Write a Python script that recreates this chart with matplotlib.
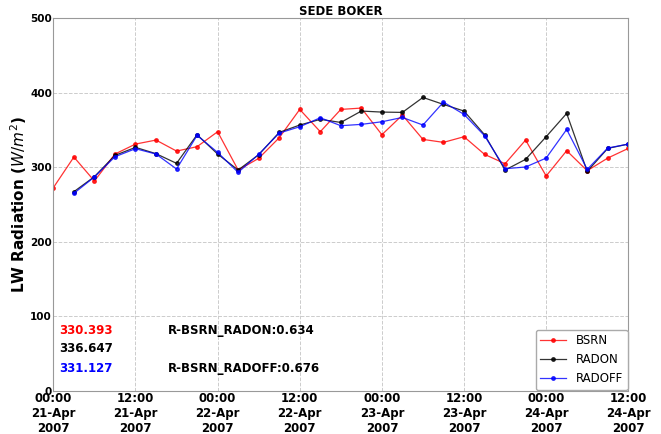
import datetime
import matplotlib
matplotlib.use("Agg")
import matplotlib.pyplot as plt
import matplotlib.dates as mdates

# 3-hourly samples from 00:00 21-Apr-2007 to 12:00 24-Apr-2007
start = datetime.datetime(2007, 4, 21, 0, 0)
times = [start + datetime.timedelta(hours=3 * k) for k in range(29)]

bsrn = [272.6, 313.8, 281.6, 317.8, 331.2, 336.6, 321.8, 327.7, 347.8, 296.3,
        312.0, 339.7, 377.8, 347.8, 377.8, 379.6, 343.8, 370.2, 337.5, 333.5,
        341.1, 317.4, 304.8, 336.6, 288.3, 322.3, 295.4, 312.4, 325.4]
radon = [None, 267.2, 287.4, 316.0, 326.8, 318.3, 305.3, 343.8, 317.8, 296.3,
         316.9, 346.9, 356.8, 364.4, 360.3, 375.6, 374.2, 373.8, 393.9, 384.5,
         375.6, 343.8, 296.3, 310.7, 341.1, 372.4, 294.5, 325.4, 331.2]
radoff = [None, 265.0, 287.0, 314.2, 325.0, 317.8, 297.7, 342.9, 320.0, 293.2,
          317.4, 346.0, 354.5, 366.6, 355.9, 357.7, 361.2, 367.0, 356.8, 387.6,
          371.1, 342.4, 298.1, 300.4, 312.4, 350.9, 297.2, 325.9, 331.2]

means = ["330.393", "336.647", "331.127"]
corr_labels = ["R-BSRN_RADON:0.634", "R-BSRN_RADOFF:0.676"]


def clean(vals):
    return [float("nan") if v is None else v for v in vals]


fig = plt.figure(figsize=(6.61, 4.34), dpi=100)
ax = fig.add_axes([0.0807, 0.1002, 0.8698, 0.8572])

ax.plot(times, clean(bsrn), color="red", marker="o", markersize=2.5,
        linewidth=0.9, alpha=0.8, label="BSRN")
ax.plot(times, clean(radon), color="black", marker="o", markersize=2.5,
        linewidth=0.9, alpha=0.8, label="RADON")
ax.plot(times, clean(radoff), color="blue", marker="o", markersize=2.5,
        linewidth=0.9, alpha=0.8, label="RADOFF")

ax.set_xlim(times[0], times[-1])
ax.set_ylim(0, 500)
ax.set_yticks([0, 100, 200, 300, 400, 500])
ax.xaxis.set_major_locator(mdates.HourLocator(byhour=[0, 12]))
ax.xaxis.set_major_formatter(mdates.DateFormatter("%H:%M\n%d-%b\n%Y"))

ax.grid(True, linestyle="--", color="#cccccc", linewidth=0.7)
ax.tick_params(length=0, pad=1)
for lab in ax.get_xticklabels():
    lab.set_fontweight("bold")
    lab.set_fontsize(8.5)
for lab in ax.get_yticklabels():
    lab.set_fontweight("bold")
    lab.set_fontsize(7.5)
for sp in ax.spines.values():
    sp.set_color("#999999")

ax.set_title("SEDE BOKER", fontsize=8.5, fontweight="bold", pad=2)
ax.set_ylabel(r"LW Radiation ($W/m^2$)", fontsize=11, fontweight="bold",
              labelpad=1)

colors = ["red", "black", "blue"]
ypos = [0.16, 0.112, 0.06]
for txt, c, y in zip(means, colors, ypos):
    ax.text(0.01, y, txt, color=c, fontsize=8.5, fontweight="bold",
            transform=ax.transAxes, va="center")
ax.text(0.2, ypos[0], corr_labels[0], fontsize=8.5, fontweight="bold",
        transform=ax.transAxes, va="center")
ax.text(0.2, ypos[2], corr_labels[1], fontsize=8.5, fontweight="bold",
        transform=ax.transAxes, va="center")

ax.legend(loc="lower right", fontsize=8.5, borderaxespad=0.05,
          handlelength=2.2, framealpha=1, edgecolor="#aaaaaa")

fig.savefig("out.png", dpi=100)
